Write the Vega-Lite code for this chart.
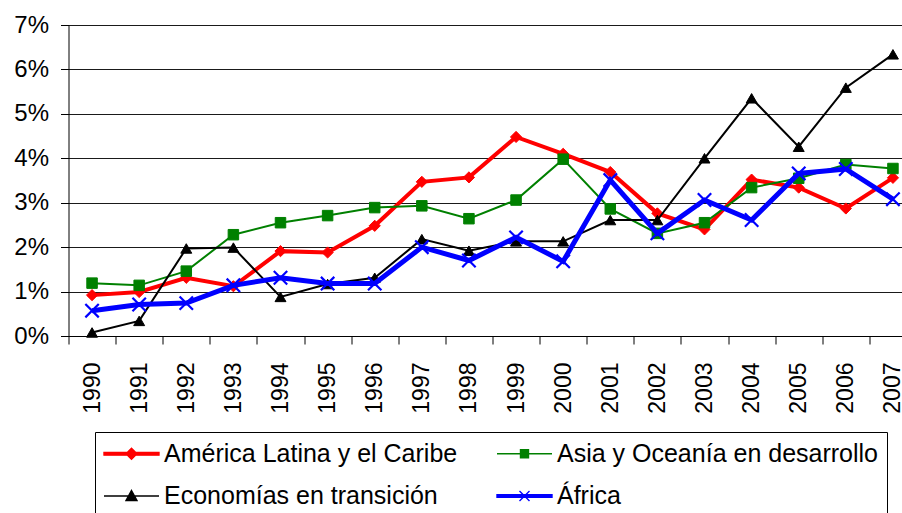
{
  "$schema": "https://vega.github.io/schema/vega-lite/v6.json",
  "autosize": {"type": "none"},
  "padding": {"left": 68.5, "top": 25, "right": 0, "bottom": 177},
  "width": 833.5,
  "height": 311,
  "background": "white",
  "config": {
    "view": {"stroke": null},
    "font": "Liberation Sans",
    "axis": {"labelFont": "Liberation Sans", "labelColor": "black", "domainColor": "black", "tickColor": "black", "domainWidth": 1, "tickWidth": 1, "title": null}
  },
  "data": {"values": [
    {"year": "1990", "series": "América Latina y el Caribe", "value": 0.92},
    {"year": "1991", "series": "América Latina y el Caribe", "value": 0.99},
    {"year": "1992", "series": "América Latina y el Caribe", "value": 1.31},
    {"year": "1993", "series": "América Latina y el Caribe", "value": 1.12},
    {"year": "1994", "series": "América Latina y el Caribe", "value": 1.91},
    {"year": "1995", "series": "América Latina y el Caribe", "value": 1.88},
    {"year": "1996", "series": "América Latina y el Caribe", "value": 2.48},
    {"year": "1997", "series": "América Latina y el Caribe", "value": 3.47},
    {"year": "1998", "series": "América Latina y el Caribe", "value": 3.57},
    {"year": "1999", "series": "América Latina y el Caribe", "value": 4.48},
    {"year": "2000", "series": "América Latina y el Caribe", "value": 4.10},
    {"year": "2001", "series": "América Latina y el Caribe", "value": 3.69},
    {"year": "2002", "series": "América Latina y el Caribe", "value": 2.76},
    {"year": "2003", "series": "América Latina y el Caribe", "value": 2.40},
    {"year": "2004", "series": "América Latina y el Caribe", "value": 3.52},
    {"year": "2005", "series": "América Latina y el Caribe", "value": 3.34},
    {"year": "2006", "series": "América Latina y el Caribe", "value": 2.87},
    {"year": "2007", "series": "América Latina y el Caribe", "value": 3.56},
    {"year": "1990", "series": "Asia y Oceanía en desarrollo", "value": 1.19},
    {"year": "1991", "series": "Asia y Oceanía en desarrollo", "value": 1.14},
    {"year": "1992", "series": "Asia y Oceanía en desarrollo", "value": 1.46},
    {"year": "1993", "series": "Asia y Oceanía en desarrollo", "value": 2.28},
    {"year": "1994", "series": "Asia y Oceanía en desarrollo", "value": 2.55},
    {"year": "1995", "series": "Asia y Oceanía en desarrollo", "value": 2.71},
    {"year": "1996", "series": "Asia y Oceanía en desarrollo", "value": 2.89},
    {"year": "1997", "series": "Asia y Oceanía en desarrollo", "value": 2.93},
    {"year": "1998", "series": "Asia y Oceanía en desarrollo", "value": 2.64},
    {"year": "1999", "series": "Asia y Oceanía en desarrollo", "value": 3.06},
    {"year": "2000", "series": "Asia y Oceanía en desarrollo", "value": 3.98},
    {"year": "2001", "series": "Asia y Oceanía en desarrollo", "value": 2.86},
    {"year": "2002", "series": "Asia y Oceanía en desarrollo", "value": 2.31},
    {"year": "2003", "series": "Asia y Oceanía en desarrollo", "value": 2.55},
    {"year": "2004", "series": "Asia y Oceanía en desarrollo", "value": 3.34},
    {"year": "2005", "series": "Asia y Oceanía en desarrollo", "value": 3.55},
    {"year": "2006", "series": "Asia y Oceanía en desarrollo", "value": 3.86},
    {"year": "2007", "series": "Asia y Oceanía en desarrollo", "value": 3.77},
    {"year": "1990", "series": "Economías en transición", "value": 0.08},
    {"year": "1991", "series": "Economías en transición", "value": 0.34},
    {"year": "1992", "series": "Economías en transición", "value": 1.97},
    {"year": "1993", "series": "Economías en transición", "value": 1.99},
    {"year": "1994", "series": "Economías en transición", "value": 0.88},
    {"year": "1995", "series": "Economías en transición", "value": 1.17},
    {"year": "1996", "series": "Economías en transición", "value": 1.31},
    {"year": "1997", "series": "Economías en transición", "value": 2.18},
    {"year": "1998", "series": "Economías en transición", "value": 1.92},
    {"year": "1999", "series": "Economías en transición", "value": 2.13},
    {"year": "2000", "series": "Economías en transición", "value": 2.13},
    {"year": "2001", "series": "Economías en transición", "value": 2.61},
    {"year": "2002", "series": "Economías en transición", "value": 2.61},
    {"year": "2003", "series": "Economías en transición", "value": 4.00},
    {"year": "2004", "series": "Economías en transición", "value": 5.35},
    {"year": "2005", "series": "Economías en transición", "value": 4.26},
    {"year": "2006", "series": "Economías en transición", "value": 5.59},
    {"year": "2007", "series": "Economías en transición", "value": 6.34},
    {"year": "1990", "series": "África", "value": 0.57},
    {"year": "1991", "series": "África", "value": 0.71},
    {"year": "1992", "series": "África", "value": 0.74},
    {"year": "1993", "series": "África", "value": 1.14},
    {"year": "1994", "series": "África", "value": 1.31},
    {"year": "1995", "series": "África", "value": 1.18},
    {"year": "1996", "series": "África", "value": 1.18},
    {"year": "1997", "series": "África", "value": 2.00},
    {"year": "1998", "series": "África", "value": 1.70},
    {"year": "1999", "series": "África", "value": 2.22},
    {"year": "2000", "series": "África", "value": 1.68},
    {"year": "2001", "series": "África", "value": 3.51},
    {"year": "2002", "series": "África", "value": 2.31},
    {"year": "2003", "series": "África", "value": 3.06},
    {"year": "2004", "series": "África", "value": 2.61},
    {"year": "2005", "series": "África", "value": 3.66},
    {"year": "2006", "series": "África", "value": 3.76},
    {"year": "2007", "series": "África", "value": 3.08}
  ]},
  "encoding": {
    "x": {
      "field": "year", "type": "ordinal",
      "scale": {"type": "band", "paddingInner": 0, "paddingOuter": 0, "range": [0, 848]},
      "axis": {"labelAngle": 270, "labelFontSize": 23, "tickSize": 8, "labelPadding": 18, "tickBand": "extent", "grid": false}
    },
    "y": {
      "field": "value", "type": "quantitative",
      "scale": {"domain": [0, 7], "nice": false},
      "axis": {"values": [0, 1, 2, 3, 4, 5, 6, 7], "labelExpr": "datum.value + '%'", "labelFontSize": 24, "tickSize": 8, "labelPadding": 12, "grid": true, "gridColor": "#1a1a1a", "gridWidth": 1}
    }
  },
  "layer": [
    {
      "mark": {"type": "line", "strokeOpacity": 0},
      "encoding": {
        "color": {
          "field": "series", "type": "nominal",
          "scale": {"domain": ["América Latina y el Caribe", "Asia y Oceanía en desarrollo", "Economías en transición", "África"], "range": ["#ff0000", "#008000", "#000000", "#0000ff"]},
          "legend": {
            "title": null,
            "orient": "none",
            "direction": "horizontal",
            "legendX": 26.5,
            "legendY": 407,
            "columns": 2,
            "columnPadding": 36,
            "rowPadding": 15.5,
            "padding": 8,
            "strokeColor": "black",
            "fillColor": "white",
            "labelFont": "Liberation Sans",
            "labelFontSize": 25,
            "labelColor": "black",
            "labelLimit": 0,
            "labelOffset": 34,
            "symbolSize": 625,
            "symbolStrokeWidth": 1.4,
            "encode": {
              "symbols": {
                "update": {
                  "shape": {"signal": "datum.value === 'América Latina y el Caribe' ? 'M-1,-0.11L3.4,-0.11L3.4,0.11L-1,0.11ZM1.2,-0.44L1.64,0L1.2,0.44L0.76,0Z' : datum.value === 'Asia y Oceanía en desarrollo' ? 'M-1,0L3.4,0M0.88,-0.32L1.52,-0.32L1.52,0.32L0.88,0.32Z' : datum.value === 'Economías en transición' ? 'M-1,0L3.4,0M1.2,-0.44L1.64,0.36L0.76,0.36Z' : 'M-1,-0.11L3.4,-0.11L3.4,0.11L-1,0.11ZM0.8,-0.4L1.6,0.4M0.8,0.4L1.6,-0.4'"},
                  "fill": {"signal": "scale('color', datum.value)"},
                  "stroke": {"signal": "scale('color', datum.value)"},
                  "fillOpacity": {"value": 1},
                  "strokeOpacity": {"value": 1},
                  "opacity": {"value": 1},
                  "strokeWidth": {"value": 1.4},
                  "size": {"value": 625}
                }
              }
            }
          }
        }
      }
    },
    {
      "transform": [{"filter": {"field": "series", "equal": "América Latina y el Caribe"}}],
      "layer": [
        {"mark": {"type": "line", "color": "#ff0000", "strokeWidth": 4}},
        {"mark": {"type": "point", "shape": "diamond", "filled": true, "fill": "#ff0000", "stroke": "#ff0000", "strokeWidth": 1, "size": 125, "opacity": 1}}
      ]
    },
    {
      "transform": [{"filter": {"field": "series", "equal": "Asia y Oceanía en desarrollo"}}],
      "layer": [
        {"mark": {"type": "line", "color": "#008000", "strokeWidth": 2}},
        {"mark": {"type": "point", "shape": "square", "filled": true, "fill": "#008000", "stroke": "#008000", "strokeWidth": 1, "size": 110, "opacity": 1}}
      ]
    },
    {
      "transform": [{"filter": {"field": "series", "equal": "Economías en transición"}}],
      "layer": [
        {"mark": {"type": "line", "color": "#000000", "strokeWidth": 2}},
        {"mark": {"type": "point", "shape": "triangle-up", "filled": true, "fill": "#000000", "stroke": "#000000", "strokeWidth": 1, "size": 120, "opacity": 1}}
      ]
    },
    {
      "transform": [{"filter": {"field": "series", "equal": "África"}}],
      "layer": [
        {"mark": {"type": "line", "color": "#0000ff", "strokeWidth": 5}},
        {"mark": {"type": "point", "shape": "M-1,-1L1,1M-1,1L1,-1", "filled": false, "stroke": "#0000ff", "strokeWidth": 2.2, "size": 180, "opacity": 1}}
      ]
    }
  ]
}
